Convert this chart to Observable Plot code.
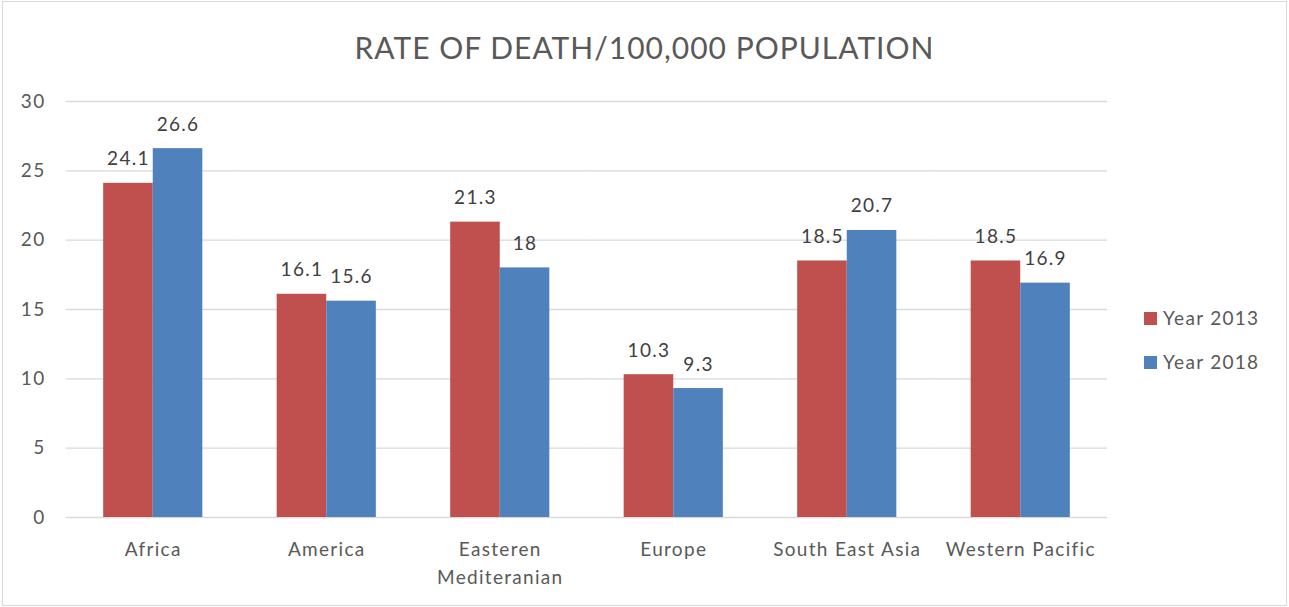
<!DOCTYPE html>
<html>
<head>
<meta charset="utf-8">
<script src="https://cdn.jsdelivr.net/npm/d3@7"></script>
<script src="https://cdn.jsdelivr.net/npm/@observablehq/plot@0.6"></script>
<style>
  body { margin: 0; background: #fff; }
  #wrap { position: relative; width: 1289px; height: 607px; font-family: Lato, "Open Sans", sans-serif; color: #595959; }
  #border { position: absolute; left: 2px; top: 1px; width: 1283px; height: 603px; border: 1px solid #d9d9d9; pointer-events: none; }
  #title { position: absolute; left: 0; width: 1289px; top: 28px; text-align: center; font-size: 30px; line-height: 38px; letter-spacing: 1px; color: #595959; }
  #chart { position: absolute; left: 0; top: 0; }
  .leg { position: absolute; left: 1144px; font-size: 19px; line-height: 22px; letter-spacing: 1.3px; color: #595959; display: flex; align-items: center; }
  .leg span.sw { display: inline-block; width: 13px; height: 13px; margin-right: 6px; }
</style>
</head>
<body>
<div id="wrap">
  <div id="chart"></div>
  <div id="title"></div>
  <div id="legend"></div>
  <div id="border"></div>
</div>
<script>
const titleText = "RATE OF DEATH/100,000 POPULATION";
const regions = ["Africa", "America", "Easteren Mediteranian", "Europe", "South East Asia", "Western Pacific"];
const series = ["Year 2013", "Year 2018"];
const year2013 = [24.1, 16.1, 21.3, 10.3, 18.5, 18.5];
const year2018 = [26.6, 15.6, 18, 9.3, 20.7, 16.9];
const yTicks = [0, 5, 10, 15, 20, 25, 30];
const colors = ["#C0504D", "#4F81BD"];

const data = regions.flatMap((r, i) => [
  {region: r, series: series[0], value: year2013[i]},
  {region: r, series: series[1], value: year2018[i]}
]);

const chart = Plot.plot({
  width: 1289,
  height: 607,
  marginLeft: 66,
  marginRight: 182,
  marginTop: 101,
  marginBottom: 90,
  style: {fontFamily: "Lato, 'Open Sans', sans-serif", fontSize: "19px", letterSpacing: "1.3px", color: "#595959", background: "transparent"},
  fx: {domain: regions, paddingInner: 0, paddingOuter: 0, round: false, label: null},
  x: {domain: series, axis: null, paddingInner: 0, paddingOuter: 0.75, round: false},
  y: {domain: [0, 30], ticks: yTicks, label: null},
  color: {domain: series, range: colors},
  marks: [
    Plot.gridY(yTicks, {stroke: "#d9d9d9", strokeOpacity: 1, strokeWidth: 1.3}),
    Plot.barY(data, {fx: "region", x: "series", y: "value", fill: "series"}),
    Plot.text(data, {fx: "region", x: "series", y: "value", text: d => String(d.value), lineAnchor: "bottom", dy: -18, fill: "#404040", fontSize: 19}),
    Plot.axisY(yTicks, {tickSize: 0, tickPadding: 21, fontSize: 19, fill: "#595959", label: null}),
    Plot.axisFx({anchor: "bottom", tickSize: 0, tickPadding: 19, fontSize: 19, fill: "#595959", lineHeight: 1.47, label: null,
      tickFormat: d => d === "Easteren Mediteranian" ? "Easteren\nMediteranian" : d})
  ]
});
document.getElementById("chart").appendChild(chart);
document.getElementById("title").textContent = titleText;

const legend = document.getElementById("legend");
series.forEach((s, i) => {
  const row = document.createElement("div");
  row.className = "leg";
  row.style.top = (307 + i * 44) + "px";
  const sw = document.createElement("span");
  sw.className = "sw";
  sw.style.background = colors[i];
  row.appendChild(sw);
  row.appendChild(document.createTextNode(s));
  legend.appendChild(row);
});
</script>
</body>
</html>
